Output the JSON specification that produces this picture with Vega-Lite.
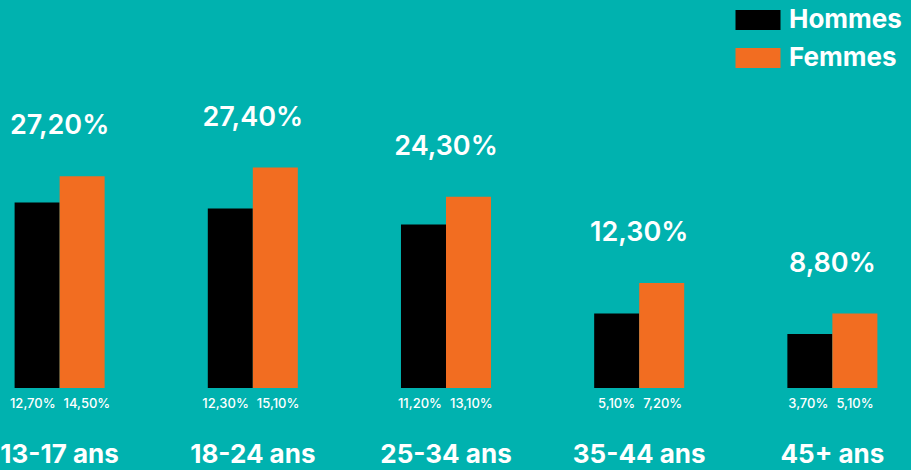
{
  "$schema": "https://vega.github.io/schema/vega-lite/v6.json",
  "width": 911,
  "height": 470,
  "autosize": {"type": "none"},
  "padding": 0,
  "background": "#00B2AF",
  "config": {
    "view": {"stroke": null},
    "font": "Inter",
    "locale": {"number": {"decimal": ",", "thousands": " ", "grouping": [3], "currency": ["", " €"], "percent": "%"}}
  },
  "data": {
    "values": [
      {"age": "13-17 ans", "sexe": "Hommes", "part": 0.127, "total": 0.272},
      {"age": "13-17 ans", "sexe": "Femmes", "part": 0.145, "total": 0.272},
      {"age": "18-24 ans", "sexe": "Hommes", "part": 0.123, "total": 0.274},
      {"age": "18-24 ans", "sexe": "Femmes", "part": 0.151, "total": 0.274},
      {"age": "25-34 ans", "sexe": "Hommes", "part": 0.112, "total": 0.243},
      {"age": "25-34 ans", "sexe": "Femmes", "part": 0.131, "total": 0.243},
      {"age": "35-44 ans", "sexe": "Hommes", "part": 0.051, "total": 0.123},
      {"age": "35-44 ans", "sexe": "Femmes", "part": 0.072, "total": 0.123},
      {"age": "45+ ans", "sexe": "Hommes", "part": 0.037, "total": 0.088},
      {"age": "45+ ans", "sexe": "Femmes", "part": 0.051, "total": 0.088}
    ]
  },
  "encoding": {
    "x": {
      "field": "age",
      "type": "nominal",
      "sort": ["13-17 ans", "18-24 ans", "25-34 ans", "35-44 ans", "45+ ans"],
      "scale": {"range": [0, 892], "paddingInner": 0.534, "paddingOuter": 0.0756},
      "axis": null
    }
  },
  "layer": [
    {
      "mark": {"type": "bar"},
      "encoding": {
        "xOffset": {"field": "sexe", "type": "nominal", "sort": ["Hommes", "Femmes"], "scale": {"paddingInner": 0, "paddingOuter": 0}},
        "y": {"field": "part", "type": "quantitative", "scale": {"domain": [-0.05616, 0.26576], "nice": false, "zero": false}, "axis": null},
        "y2": {"datum": 0},
        "color": {
          "field": "sexe",
          "type": "nominal",
          "scale": {"domain": ["Hommes", "Femmes"], "range": ["#000000", "#F26D21"]},
          "legend": {
            "title": null,
            "orient": "none",
            "legendX": 745,
            "legendY": 7,
            "symbolType": "M-2.25,-1H2.25V1H-2.25Z",
            "symbolSize": 400,
            "symbolStrokeWidth": 0,
            "symbolOpacity": 1,
            "labelOffset": 18,
            "labelFontSize": 26,
            "labelFontWeight": "bold",
            "labelColor": "white",
            "labelFont": "Inter",
            "rowPadding": 12,
            "labelLimit": 300
          }
        }
      }
    },
    {
      "transform": [{"filter": "datum.sexe == 'Hommes'"}],
      "mark": {"type": "text", "dy": 16, "dx": -4, "align": "right", "fontSize": 13, "fontWeight": 500, "color": "white"},
      "encoding": {
        "y": {"datum": 0, "type": "quantitative"},
        "text": {"field": "part", "type": "quantitative", "format": ".2%"}
      }
    },
    {
      "transform": [{"filter": "datum.sexe == 'Femmes'"}],
      "mark": {"type": "text", "dy": 16, "dx": 4, "align": "left", "fontSize": 13, "fontWeight": 500, "color": "white"},
      "encoding": {
        "y": {"datum": 0, "type": "quantitative"},
        "text": {"field": "part", "type": "quantitative", "format": ".2%"}
      }
    },
    {
      "transform": [
        {"aggregate": [{"op": "max", "field": "part", "as": "maxpart"}, {"op": "max", "field": "total", "as": "total"}], "groupby": ["age"]}
      ],
      "mark": {"type": "text", "dy": -50, "fontSize": 27, "fontWeight": 600, "color": "white"},
      "encoding": {
        "y": {"field": "maxpart", "type": "quantitative"},
        "text": {"field": "total", "type": "quantitative", "format": ".2%"}
      }
    },
    {
      "transform": [
        {"aggregate": [{"op": "max", "field": "part", "as": "maxpart"}], "groupby": ["age"]}
      ],
      "mark": {"type": "text", "fontSize": 26, "fontWeight": "bold", "color": "white"},
      "encoding": {
        "y": {"datum": -0.0459, "type": "quantitative"},
        "text": {"field": "age", "type": "nominal"}
      }
    }
  ]
}
